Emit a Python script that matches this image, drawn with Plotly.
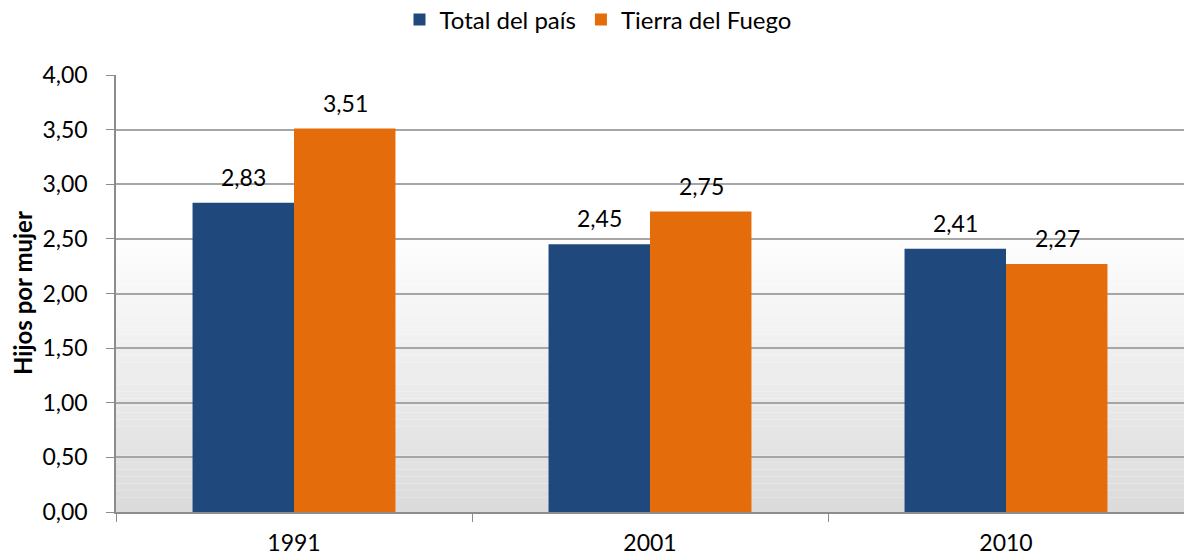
import plotly.graph_objects as go

years = ["1991", "2001", "2010"]
total_pais = [2.83, 2.45, 2.41]
tierra_fuego = [3.51, 2.75, 2.27]
series_names = ["Total del país", "Tierra del Fuego"]
y_ticks = [0, 0.5, 1, 1.5, 2, 2.5, 3, 3.5, 4]

FONT = "Lato"
FS = 23
L, R, T, B = 116, 0, 75, 45
W, H = 1184, 557
PH = H - T - B
PW = W - L - R

fig = go.Figure()
fig.add_trace(go.Bar(x=years, y=total_pais, name=series_names[0], marker_color="#1F497D",
                     marker_line_width=0))
fig.add_trace(go.Bar(x=years, y=tierra_fuego, name=series_names[1], marker_color="#E46C0A",
                     marker_line_width=0))

annotations = []
for vals, shift in ((total_pais, -51), (tierra_fuego, 51)):
    for i, v in enumerate(vals):
        annotations.append(dict(x=i, y=v, xref="x", yref="y", text=f"{v:.2f}".replace(".", ","),
                                showarrow=False, xshift=shift, yshift=26,
                                font=dict(size=FS, color="#000000")))
annotations.append(dict(x=(22 - L) / PW, y=(512 - 293) / PH, xref="paper", yref="paper",
                        xanchor="center", yanchor="middle",
                        text="<b>Hijos por mujer</b>", textangle=-90, showarrow=False,
                        font=dict(size=24, color="#000000")))

# gradient background (white at top, grey at bottom)
shapes = []
n = 40
top = 2.6
for i in range(n):
    y0 = top * i / n
    y1 = top * (i + 1) / n
    t = (i + 0.5) / n
    v = int(round(219 + (255 - 219) * t))
    shapes.append(dict(type="rect", xref="paper", yref="y", x0=0, x1=1, y0=y0, y1=y1,
                       fillcolor=f"rgb({v},{v},{v})", line=dict(width=0), layer="below"))

fig.update_layout(
    width=W, height=H,
    margin=dict(l=L, r=R, t=T, b=B, autoexpand=False),
    paper_bgcolor="white", plot_bgcolor="white",
    separators=", ",
    barmode="group", bargap=0.43, bargroupgap=0,
    font=dict(family=FONT, size=FS, color="#000000"),
    shapes=shapes,
    annotations=annotations,
    showlegend=True,
    legend=dict(orientation="h", x=(598 - L) / PW, xanchor="center", y=1 + (T - 20) / PH,
                yref="paper", yanchor="middle", font=dict(size=24), traceorder="normal"),
    xaxis=dict(type="category", categoryorder="array", categoryarray=years,
               tickson="boundaries", ticks="outside", ticklen=8,
               tickcolor="#8C8C8C", showline=True, linecolor="#8C8C8C", linewidth=1.5,
               showgrid=False, tickfont=dict(size=FS), ticklabelstandoff=10, automargin=False),
    yaxis=dict(range=[0, 4], tickvals=y_ticks, tickformat=".2f", ticks="outside", ticklen=8,
               tickcolor="#8C8C8C", showline=True, linecolor="#8C8C8C", linewidth=1.5,
               showgrid=True, gridcolor="#A6A6A6", gridwidth=1.5, zeroline=False,
               tickfont=dict(size=FS), ticklabelstandoff=14, automargin=False),
)
fig.write_html("out.html", config={"displayModeBar": False},
               post_script="document.body.style.margin='0';document.body.style.overflow='hidden';")
